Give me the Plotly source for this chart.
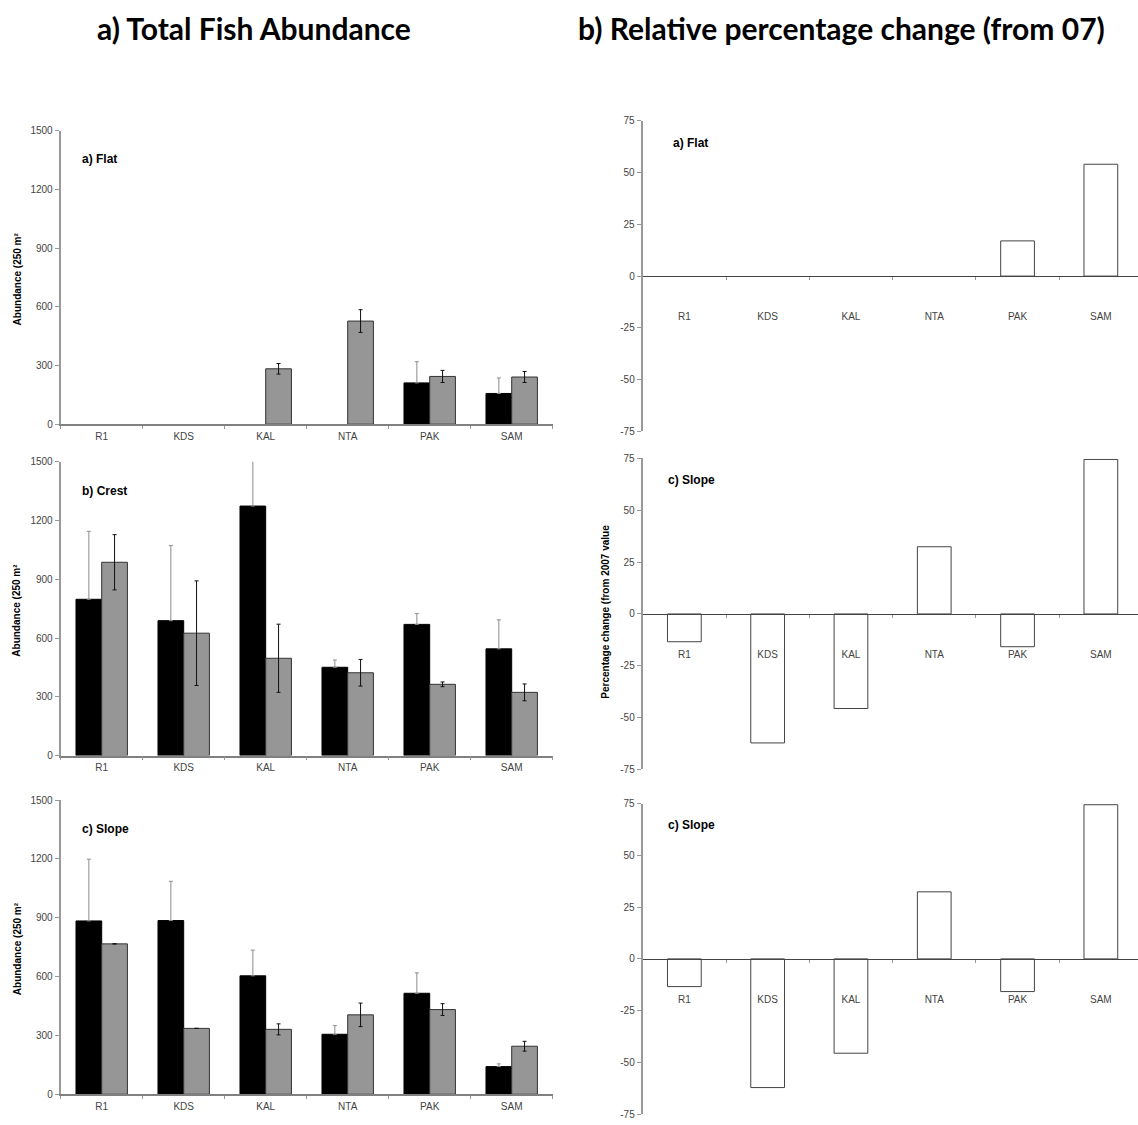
import plotly.graph_objects as go

W, H = 1138, 1125

categories = ["R1", "KDS", "KAL", "NTA", "PAK", "SAM"]

# Left column: abundance (black = 2007, grey = later survey)
flat_2007 = [None, None, None, None, 211, 157]
flat_2007_err = [None, None, None, None, 108, 79]
flat_later = [None, None, 283, 527, 244, 241]
flat_later_err = [None, None, 27, 58, 31, 28]

crest_2007 = [798, 689, 1274, 451, 670, 545]
crest_2007_err = [347, 384, 260, 37, 55, 148]
crest_later = [987, 625, 497, 423, 364, 323]
crest_later_err = [141, 267, 174, 68, 12, 43]

slope_2007 = [884, 886, 604, 306, 515, 141]
slope_2007_err = [315, 200, 131, 44, 104, 14]
slope_later = [767, 336, 331, 405, 432, 245]
slope_later_err = [None, None, 28, 60, 30, 25]

# Right column: relative percentage change from 2007
pct_flat = [None, None, None, None, 17, 54]
pct_slope_mid = [-13.4, -62.2, -45.6, 32.4, -15.8, 74.5]
pct_slope_bottom = [-13.4, -62.2, -45.6, 32.4, -15.8, 74.5]

abund_ticks = [0, 300, 600, 900, 1200, 1500]
pct_ticks = [-75, -50, -25, 0, 25, 50, 75]

panel_labels_left = ["a) Flat", "b) Crest", "c) Slope"]
panel_labels_right = ["a) Flat", "c) Slope", "c) Slope"]
col_titles = ["a) Total Fish Abundance", "b) Relative percentage change (from 07)"]
left_ytitle = "Abundance (250 m²"
right_ytitle = "Percentage change (from 2007 value"

TICKFONT = dict(family="Liberation Sans, Arial, sans-serif", size=10, color="#444444")

def px_x(px):
    return px / W

def px_y(py):
    return 1 - py / H

# pixel geometry of panels
left_x = (60.7, 552.7)
right_x = (642.7, W)
left_y = [(126, 422.7), (460.7, 757.7), (802.7, 1100)]
right_y = [(116, 430), (457.3, 771.7), (806.3, 1120)]

fig = go.Figure()
layout = dict(
    width=W, height=H,
    margin=dict(l=0, r=0, t=0, b=0),
    paper_bgcolor="white", plot_bgcolor="white",
    showlegend=False,
    barmode="group", bargap=0.373, bargroupgap=0,
)

left_data = [
    (flat_2007, flat_2007_err, flat_later, flat_later_err),
    (crest_2007, crest_2007_err, crest_later, crest_later_err),
    (slope_2007, slope_2007_err, slope_later, slope_later_err),
]

annotations = []

for i, (b, be, g, ge) in enumerate(left_data):
    n = i + 1
    xa = "x" if n == 1 else f"x{n}"
    ya = "y" if n == 1 else f"y{n}"
    fig.add_trace(go.Bar(
        x=categories, y=b, xaxis=xa, yaxis=ya, name="2007",
        marker=dict(color="#000000", line=dict(color="#000000", width=1)),
        error_y=dict(type="data", symmetric=False, array=be,
                     arrayminus=[0 if e is not None else None for e in be],
                     color="#8c8c8c", thickness=1, width=2),
    ))
    fig.add_trace(go.Bar(
        x=categories, y=g, xaxis=xa, yaxis=ya, name="Later",
        marker=dict(color="#969696", line=dict(color="#333333", width=1)),
        error_y=dict(type="data", array=ge, color="#111111",
                     thickness=1, width=2),
    ))
    y0, y1 = left_y[i]
    layout[f"xaxis{'' if n == 1 else n}"] = dict(
        domain=[px_x(left_x[0]), px_x(left_x[1])],
        anchor=ya, type="category", range=[-0.5, 5.5],
        tickson="boundaries", ticks="outside", ticklen=3,
        tickcolor="#999999", showline=True, linecolor="#808080", linewidth=1.5,
        showgrid=False, tickfont=TICKFONT, ticklabelstandoff=2, fixedrange=True,
    )
    layout[f"yaxis{'' if n == 1 else n}"] = dict(
        domain=[px_y(y1), px_y(y0)], anchor=xa,
        range=[0, 1500], tickvals=abund_ticks, ticks="outside", ticklen=4,
        tickcolor="#999999", showline=True, linecolor="#999999", linewidth=2,
        showgrid=False, zeroline=False, tickfont=TICKFONT,
    )
    annotations.append(dict(
        x=px_x(80), y=px_y([154.5, 490, 832][i]), xref="paper", yref="paper",
        text=f"<b>{panel_labels_left[i]}</b>", showarrow=False,
        xanchor="left", yanchor="middle",
        font=dict(family="Liberation Sans, Arial, sans-serif", size=12, color="#000"),
    ))
    annotations.append(dict(
        x=px_x(17), y=px_y((y0 + y1) / 2 + 2), xref="paper", yref="paper",
        text=f"<b>{left_ytitle}</b>", textangle=-90, showarrow=False,
        xanchor="center", yanchor="middle",
        font=dict(family="Liberation Sans, Arial, sans-serif", size=10, color="#000"),
    ))

right_data = [pct_flat, pct_slope_mid, pct_slope_bottom]
rx0, rx1 = right_x
right_range_end = 5.5 - ((rx0 + 6 * 83.3) - rx1) / 83.3

for i, vals in enumerate(right_data):
    n = i + 4
    xa, ya = f"x{n}", f"y{n}"
    fig.add_trace(go.Bar(
        x=categories, y=vals, xaxis=xa, yaxis=ya, name="% change",
        width=0.405,
        marker=dict(color="white", line=dict(color="#444444", width=1)),
    ))
    y0, y1 = right_y[i]
    dom = [px_y(y1), px_y(y0)]
    layout[f"xaxis{n}"] = dict(
        domain=[px_x(rx0), px_x(rx1)],
        anchor="free", position=(dom[0] + dom[1]) / 2,
        type="category", range=[-0.5, right_range_end],
        tickson="boundaries", ticks="outside", ticklen=3,
        tickcolor="#999999", showline=True, linecolor="#444444", linewidth=1,
        showgrid=False, tickfont=TICKFONT, ticklabelstandoff=31,
        fixedrange=True,
    )
    layout[f"yaxis{n}"] = dict(
        domain=dom, anchor=xa,
        range=[-75, 75], tickvals=pct_ticks,
        ticktext=[str(v) for v in pct_ticks],
        ticks="outside", ticklen=4,
        tickcolor="#999999", showline=True, linecolor="#999999", linewidth=2,
        showgrid=False, zeroline=False, tickfont=TICKFONT,
    )
    annotations.append(dict(
        x=px_x([671, 666, 666][i]), y=px_y([138.3, 479.3, 828.3][i]),
        xref="paper", yref="paper",
        text=f"<b>{panel_labels_right[i]}</b>", showarrow=False,
        xanchor="left", yanchor="middle",
        font=dict(family="Liberation Sans, Arial, sans-serif", size=12, color="#000"),
    ))

annotations.append(dict(
    x=px_x(605.5), y=px_y(612.7), xref="paper", yref="paper",
    text=f"<b>{right_ytitle}</b>", textangle=-90, showarrow=False,
    xanchor="center", yanchor="middle",
    font=dict(family="Liberation Sans, Arial, sans-serif", size=10, color="#000"),
))

for title, cx in zip(col_titles, [254, 841]):
    annotations.append(dict(
        x=px_x(cx), y=px_y(22), xref="paper", yref="paper",
        text=f"<b>{title}</b>", showarrow=False,
        xanchor="center", yanchor="middle",
        font=dict(family="Lato, Open Sans, sans-serif", size=30, color="#000"),
    ))

layout["annotations"] = annotations
fig.update_layout(**layout)
fig.write_html("out.html")
